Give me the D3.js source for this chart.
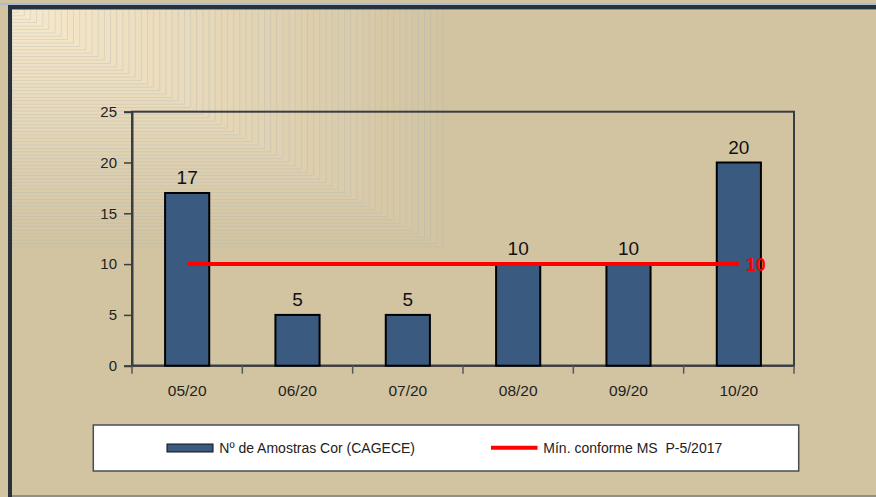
<!DOCTYPE html>
<html lang="en">
<head>
  <meta charset="UTF-8">
  <script src="https://cdn.jsdelivr.net/npm/d3@7"></script>
  <title>Amostras Cor</title>
  <style>
    body { margin: 0; background: #fff; }
    svg { display: block; }
    text { font-family: "Liberation Sans", Arial, sans-serif; }
  </style>
</head>
<body>
  <script>
    // data
    const months = ['05/20', '06/20', '07/20', '08/20', '09/20', '10/20'];
    const amostras = [17, 5, 5, 10, 10, 20];
    const minConforme = [10, 10, 10, 10, 10, 10];
    const yTicks = [0, 5, 10, 15, 20, 25];
    const legendLabels = ['Nº de Amostras Cor (CAGECE)', 'Mín. conforme MS  P-5/2017'];

    const W = 876, H = 497;
    const svg = d3.select('body').append('svg')
      .attr('width', W)
      .attr('height', H);

    /******************** background + frame ********************/
    const tan = '#d2c4a1';
    svg.append('rect').attr('x', 0).attr('y', 0).attr('width', W).attr('height', H).attr('fill', tan);

    // corner "rectangular gradient" - nested rects from top-left
    const gx = 12, gy = 9, gw = 431, gh = 238, steps = 70;
    const shade = d3.interpolateRgb(tan, '#f7e9cb');
    const bands = d3.range(steps);
    svg.append('g').selectAll('rect')
      .data(bands).enter()
      .append('rect')
      .attr('x', gx).attr('y', gy)
      .attr('width', i => gw * (1 - i / steps))
      .attr('height', i => gh * (1 - i / steps))
      .attr('fill', i => shade(i / (steps - 1)))
      .attr('stroke', 'rgba(165,178,192,0.35)')
      .attr('stroke-width', 0.8);

    // outer border
    svg.append('rect').attr('x', 0).attr('y', 3).attr('width', W).attr('height', 2).attr('fill', '#a6bdd3');
    svg.append('rect').attr('x', 8).attr('y', 5).attr('width', W - 8).attr('height', 4).attr('fill', '#27323d');
    svg.append('rect').attr('x', 8).attr('y', 5).attr('width', 4).attr('height', H - 5).attr('fill', '#27323d');
    svg.append('line').attr('x1', 12).attr('x2', W).attr('y1', 9.5).attr('y2', 9.5).attr('stroke', '#8d8f8a');
    svg.append('line').attr('x1', 12).attr('x2', W).attr('y1', 496).attr('y2', 496).attr('stroke', '#7d7f7a').attr('stroke-width', 1.5);

    /******************** scales ********************/
    const plot = { left: 132, right: 794, top: 111.7, bottom: 365.7 };
    const x = d3.scaleBand().domain(months).range([plot.left, plot.right]).paddingInner(0).paddingOuter(0);
    const y = d3.scaleLinear().domain([0, 25]).range([plot.bottom, plot.top]);
    const barW = x.bandwidth() * 0.4;

    // plot frame
    svg.append('rect')
      .attr('x', plot.left).attr('y', plot.top)
      .attr('width', plot.right - plot.left).attr('height', plot.bottom - plot.top)
      .attr('fill', 'none').attr('stroke', '#3a3d40').attr('stroke-width', 2);

    // y axis
    const yAxis = svg.append('g')
      .attr('transform', `translate(${plot.left},0)`)
      .call(d3.axisLeft(y).tickValues(yTicks).tickSize(8).tickPadding(7));
    yAxis.select('.domain').attr('stroke', '#3a3d40').attr('stroke-width', 2);
    yAxis.selectAll('.tick line').attr('stroke', '#3a3d40').attr('stroke-width', 1.5);
    yAxis.selectAll('.tick text').attr('font-size', 15).attr('fill', '#222')
      .attr('font-family', '"Liberation Sans", Arial, sans-serif');

    // x axis: ticks between categories
    const xg = svg.append('g');
    xg.append('line')
      .attr('x1', plot.left).attr('x2', plot.right)
      .attr('y1', plot.bottom).attr('y2', plot.bottom)
      .attr('stroke', '#3a3d40').attr('stroke-width', 2);
    const edges = months.map(m => x(m)).concat([x(months[months.length - 1]) + x.bandwidth()]);
    xg.selectAll('line.xt').data(edges).enter()
      .append('line').attr('class', 'xt')
      .attr('x1', d => d).attr('x2', d => d)
      .attr('y1', plot.bottom).attr('y2', plot.bottom + 8)
      .attr('stroke', '#55585a').attr('stroke-width', 1.5);
    xg.selectAll('text').data(months).enter()
      .append('text')
      .attr('x', d => x(d) + x.bandwidth() / 2)
      .attr('y', 395.7)
      .attr('text-anchor', 'middle')
      .attr('font-size', 15.5)
      .attr('fill', '#222')
      .text(d => d);

    /******************** bars ********************/
    const bars = svg.append('g').selectAll('g.bar')
      .data(amostras).enter()
      .append('g').attr('class', 'bar');
    bars.append('rect')
      .attr('x', (d, i) => x(months[i]) + (x.bandwidth() - barW) / 2)
      .attr('y', d => y(d))
      .attr('width', barW)
      .attr('height', d => y(0) - y(d))
      .attr('fill', '#3b5a80')
      .attr('stroke', '#000')
      .attr('stroke-width', 2);
    bars.append('text')
      .attr('x', (d, i) => x(months[i]) + x.bandwidth() / 2)
      .attr('y', d => y(d) - 9)
      .attr('text-anchor', 'middle')
      .attr('font-size', 19)
      .attr('fill', '#111')
      .text(d => d);

    /******************** min line ********************/
    const line = d3.line()
      .x((d, i) => x(months[i]) + x.bandwidth() / 2)
      .y(d => y(d));
    svg.append('path')
      .datum(minConforme)
      .attr('d', line)
      .attr('fill', 'none')
      .attr('stroke', '#ff0000')
      .attr('stroke-width', 4);
    const last = minConforme.length - 1;
    svg.append('text')
      .attr('x', x(months[last]) + x.bandwidth() / 2 + 7)
      .attr('y', y(minConforme[last]) + 6.5)
      .attr('font-size', 18)
      .attr('font-weight', 'bold')
      .attr('fill', '#ff0000')
      .text(minConforme[last]);

    /******************** legend ********************/
    const lg = svg.append('g');
    lg.append('rect')
      .attr('x', 93.3).attr('y', 425)
      .attr('width', 798.7 - 93.3).attr('height', 46)
      .attr('fill', '#fff').attr('stroke', '#4a4d50').attr('stroke-width', 1.5);
    lg.append('rect')
      .attr('x', 167).attr('y', 444)
      .attr('width', 46).attr('height', 8)
      .attr('fill', '#3b5a80').attr('stroke', '#111').attr('stroke-width', 1);
    lg.append('text')
      .attr('x', 219.3).attr('y', 452.5)
      .attr('font-size', 14).attr('fill', '#222')
      .text(legendLabels[0]);
    lg.append('line')
      .attr('x1', 491).attr('x2', 537.5)
      .attr('y1', 447.7).attr('y2', 447.7)
      .attr('stroke', '#ff0000').attr('stroke-width', 4);
    lg.append('text')
      .attr('x', 543.3).attr('y', 452.5)
      .attr('font-size', 14).attr('fill', '#222')
      .attr('xml:space', 'preserve')
      .style('white-space', 'pre')
      .text(legendLabels[1]);
  </script>
</body>
</html>
